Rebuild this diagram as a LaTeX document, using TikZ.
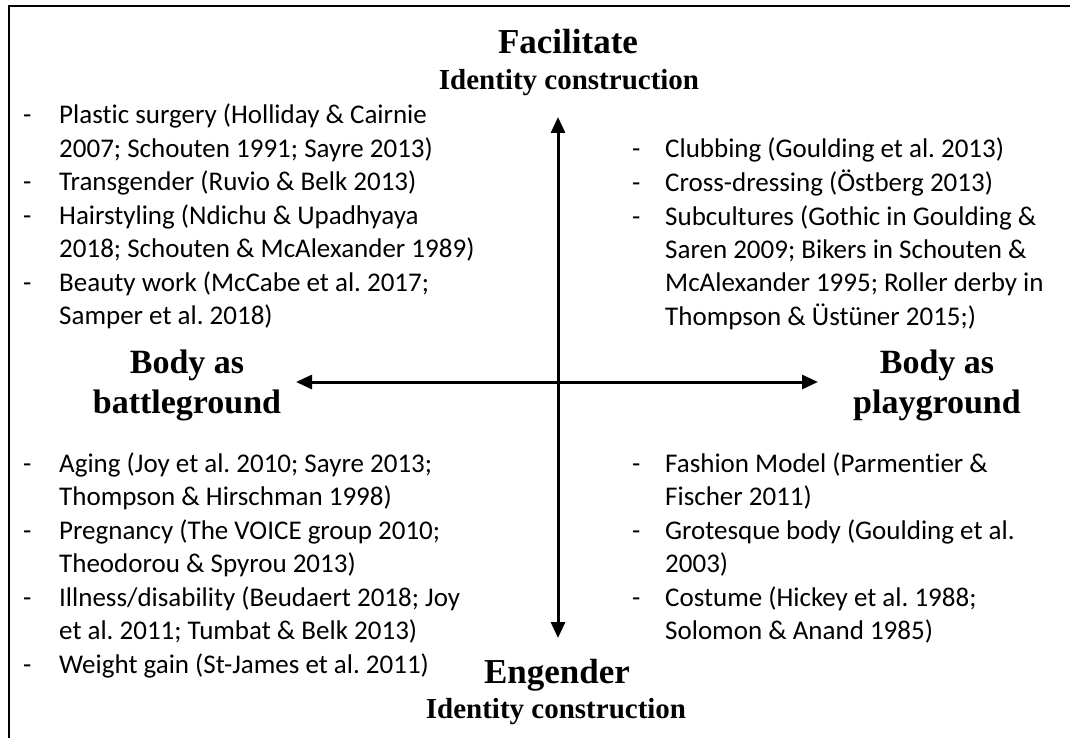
\documentclass[tikz,border=0pt]{standalone}
\usepackage{fontspec}
\setmainfont{Carlito}[Ligatures={NoCommon,NoRare,NoContextual}]
\newfontfamily\tnr{Liberation Serif}
\usetikzlibrary{arrows.meta}
\frenchspacing
\tikzset{
  head/.style={inner sep=0pt, anchor=base, font=\tnr\bfseries\fontsize{35}{40}\selectfont},
  subhead/.style={inner sep=0pt, anchor=base, font=\tnr\bfseries\fontsize{29}{33}\selectfont},
  sidehead/.style={inner sep=0pt, anchor=base, font=\tnr\bfseries\fontsize{34}{40}\selectfont},
  listbox/.style={inner sep=0pt, anchor=base west, font=\frenchspacing\fontsize{27}{33.5}\selectfont},
  axis/.style={line width=3pt, {Triangle[length=16pt,width=14pt]}-{Triangle[length=16pt,width=14pt]}},
  frame/.style={line width=2pt}
}
\begin{document}
\begin{tikzpicture}[x=1pt,y=-1pt]
\useasboundingbox (0,0) rectangle (1070,738);
\draw[frame] (9,738) -- (9,6) -- (1070,6);
% headings
\node[head] (fac) at (568,54) {Facilitate};
\node[subhead] (ic1) at (569,90) {Identity construction};
\node[head] (eng) at (557,683) {Engender};
\node[subhead] (ic2) at (556,718) {Identity construction};
\node[sidehead] (bat1) at (187,373) {Body as};
\node[sidehead] (bat2) at (187,413) {battleground};
\node[sidehead] (pla1) at (937,373) {Body as};
\node[sidehead] (pla2) at (937,413) {playground};
% axes
\coordinate (top) at (558,117);
\coordinate (bot) at (558,638);
\coordinate (lft) at (296,382);
\coordinate (rgt) at (818,382);
\draw[axis] (top) -- (bot);
\draw[axis] (lft) -- (rgt);
% lists
\node[listbox] (tl) at (23,124) {\begin{tabular}[t]{@{}p{36pt}@{}l@{}}
-&Plastic surgery (Holliday \& Cairnie\\
&2007; Schouten 1991; Sayre 2013)\\
-&Transgender (Ruvio \& Belk 2013)\\
-&Hairstyling (Ndichu \& Upadhyaya\\
&2018; Schouten \& McAlexander 1989)\\
-&Beauty work (McCabe et al. 2017;\\
&Samper et al. 2018)
\end{tabular}};
\node[listbox] (tr) at (632,158) {\begin{tabular}[t]{@{}p{33pt}@{}l@{}}
-&Clubbing (Goulding et al. 2013)\\
-&Cross-dressing (Östberg 2013)\\
-&Subcultures (Gothic in Goulding \&\\
&Saren 2009; Bikers in Schouten \&\\
&McAlexander 1995; Roller derby in\\
&Thompson \& Üstüner 2015;)
\end{tabular}};
\node[listbox] (bl) at (23,472) {\begin{tabular}[t]{@{}p{36pt}@{}l@{}}
-&Aging (Joy et al. 2010; Sayre 2013;\\
&Thompson \& Hirschman 1998)\\
-&Pregnancy (The VOICE group 2010;\\
&Theodorou \& Spyrou 2013)\\
-&Illness/disability (Beudaert 2018; Joy\\
&et al. 2011; Tumbat \& Belk 2013)\\
-&Weight gain (St-James et al. 2011)
\end{tabular}};
\node[listbox] (br) at (632,472) {\begin{tabular}[t]{@{}p{33pt}@{}l@{}}
-&Fashion Model (Parmentier \&\\
&Fischer 2011)\\
-&Grotesque body (Goulding et al.\\
&2003)\\
-&Costume (Hickey et al. 1988;\\
&Solomon \& Anand 1985)
\end{tabular}};
\end{tikzpicture}
\end{document}
